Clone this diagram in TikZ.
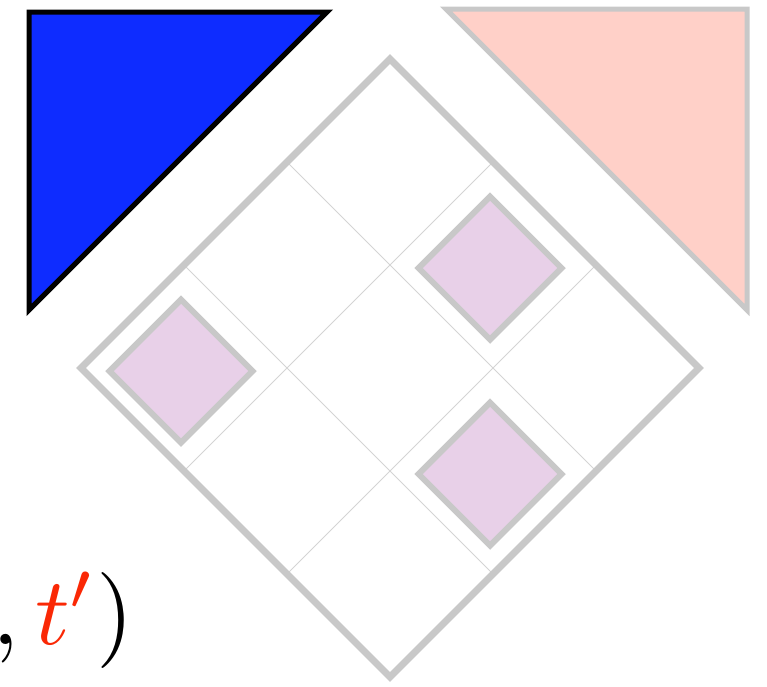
\documentclass[tikz,border=0pt]{standalone}
\usetikzlibrary{calc}
\definecolor{tblue}{RGB}{14,44,255}
\definecolor{tpink}{RGB}{255,208,200}
\definecolor{tpurple}{RGB}{232,208,232}
\definecolor{tgray}{RGB}{200,200,200}
\definecolor{tgrid}{RGB}{212,212,212}
\definecolor{tred}{RGB}{250,40,5}
\tikzset{
  bigborder/.style={draw=tgray, line width=7pt, line join=miter},
  gridline/.style={draw=tgrid, line width=0.9pt},
  purplebox/.style={draw=tgray, fill=tpurple, line width=6pt, line join=miter},
}
\begin{document}
\begin{tikzpicture}[x=1pt,y=-1pt]
\useasboundingbox (0,0) rectangle (767,686);
% triangles
\fill[tblue, draw=black, line width=5pt, line join=miter] (29,12) -- (327,12) -- (29,310) -- cycle;
\fill[tpink, draw=tgray, line width=5pt, line join=miter] (446,9) -- (747,9) -- (747,310) -- cycle;
% big diamond
\coordinate (T) at (390,59);
\coordinate (L) at (81,368);
\coordinate (R) at (699,368);
\coordinate (B) at (390,677);
\fill[white] (T) -- (R) -- (B) -- (L) -- cycle;
\foreach \f in {0.3333,0.6667}{
  \draw[gridline] ($(L)!\f!(T)$) -- ($(B)!\f!(R)$);
  \draw[gridline] ($(T)!\f!(R)$) -- ($(L)!\f!(B)$);
}
\draw[bigborder] (T) -- (R) -- (B) -- (L) -- cycle;
% purple diamonds
\foreach \cx/\cy in {181/371, 490/268, 490/474}{
  \draw[purplebox] (\cx,\cy-71.5) -- (\cx+71.5,\cy) -- (\cx,\cy+71.5) -- (\cx-71.5,\cy) -- cycle;
}
% label
\node[anchor=base east, scale=9.6, inner sep=0pt] (lbl) at (136,644) {$,\textcolor{tred}{t'})$};
\end{tikzpicture}
\end{document}
